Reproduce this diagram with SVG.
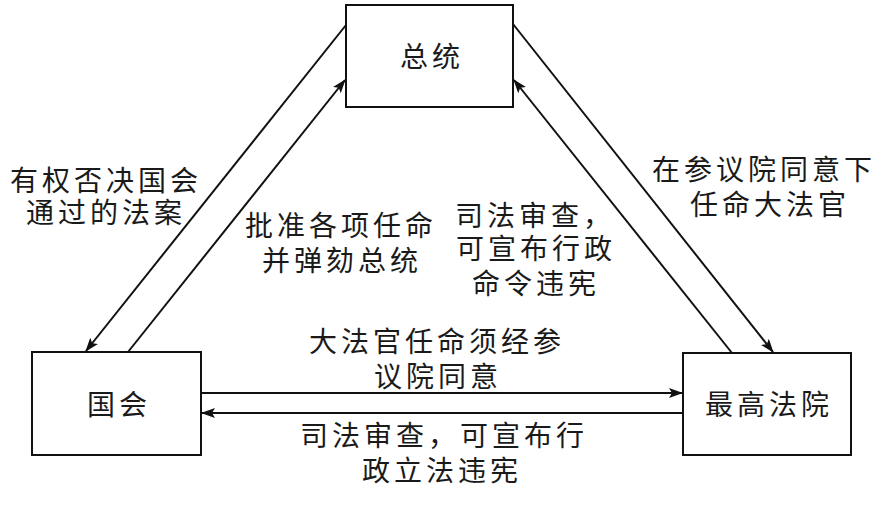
<svg xmlns="http://www.w3.org/2000/svg" width="884" height="510" viewBox="0 0 884 510">
<style>
.box{fill:#fff;stroke:#111;stroke-width:2}
.t{font-family:"Noto Sans CJK SC","Noto Sans",sans-serif;font-size:28px;letter-spacing:4px;fill:#1a1a1a;text-anchor:middle}
.c{stroke:#111;stroke-width:2;fill:none}
.a{marker-end:url(#ah)}
</style>
<defs>
<marker id="ah" markerUnits="userSpaceOnUse" markerWidth="14" markerHeight="10" refX="13" refY="5" orient="auto">
<path d="M0,0 L14,5 L0,10 L3,5 z" fill="#111"/>
</marker>
</defs>
<rect width="884" height="510" fill="#fff"/>
<g id="connectors">
<line class="c a" x1="346" y1="25" x2="86" y2="351"/>
<line class="c a" x1="128" y1="352" x2="345" y2="80"/>
<line class="c a" x1="513" y1="24" x2="773" y2="352"/>
<line class="c a" x1="732" y1="353" x2="514" y2="80"/>
<line class="c a" x1="201" y1="393" x2="682" y2="393"/>
<line class="c a" x1="683" y1="413" x2="202" y2="413"/>
</g>
<g id="node-president">
<rect class="box" x="346" y="5" width="167" height="102"/>
<text class="t" x="432" y="67">总统</text>
</g>
<g id="node-congress">
<rect class="box" x="32" y="352" width="169" height="103"/>
<text class="t" x="119" y="415">国会</text>
</g>
<g id="node-court">
<rect class="box" x="683" y="353" width="168" height="102"/>
<text class="t" x="769" y="415">最高法院</text>
</g>
<g id="labels">
<text class="t" x="106" y="191">有权否决国会</text>
<text class="t" x="106" y="223">通过的法案</text>
<text class="t" x="341" y="236">批准各项任命</text>
<text class="t" x="342" y="271">并弹劾总统</text>
<text class="t" x="535" y="226">司法审查，</text>
<text class="t" x="536" y="259">可宣布行政</text>
<text class="t" x="536" y="294">命令违宪</text>
<text class="t" x="764" y="180">在参议院同意下</text>
<text class="t" x="770" y="215">任命大法官</text>
<text class="t" x="437" y="352">大法官任命须经参</text>
<text class="t" x="438" y="387">议院同意</text>
<text class="t" x="444" y="446">司法审查，可宣布行</text>
<text class="t" x="442" y="481">政立法违宪</text>
</g>
</svg>
